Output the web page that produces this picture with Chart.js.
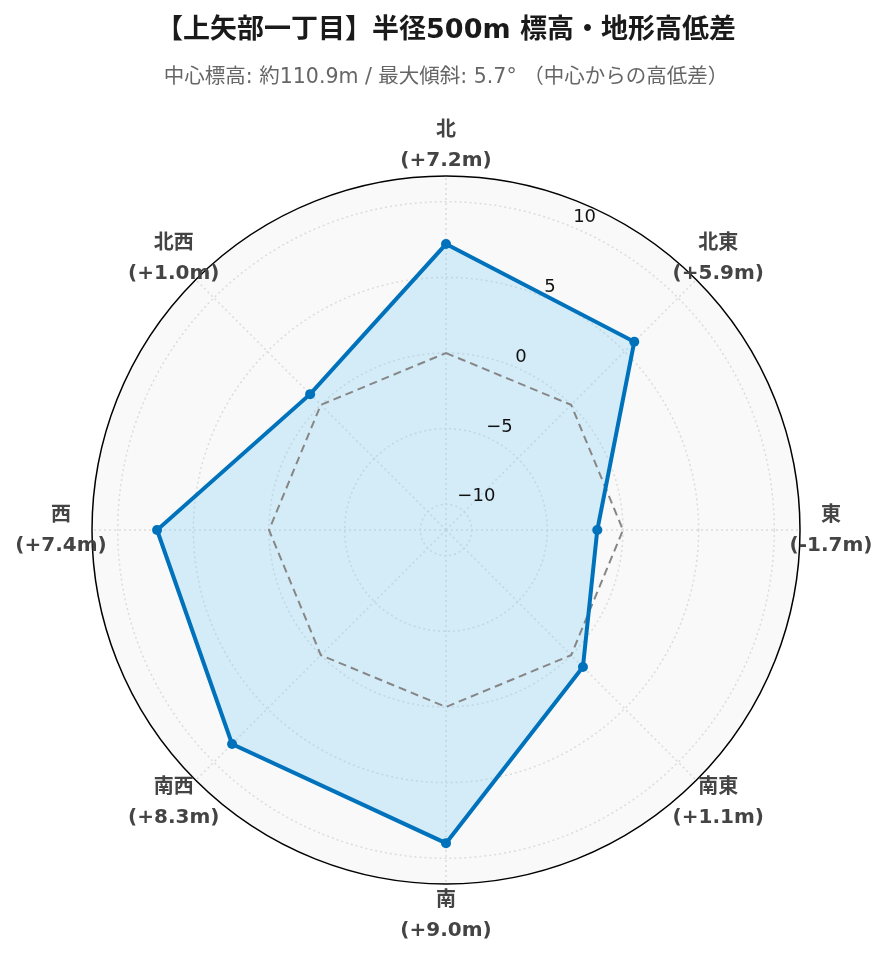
<!DOCTYPE html>
<html>
<head>
<meta charset="utf-8">
<script src="https://cdn.jsdelivr.net/npm/chart.js@4.4.0/dist/chart.umd.min.js"></script>
<style>
	html, body { margin: 0; padding: 0; background: #fff; }
	#wrap { width: 889px; height: 962px; }
</style>
</head>
<body>
<div id="wrap"><canvas id="elevChart" width="889" height="962"></canvas></div>
<script>
/***************************** 데이터 *****************************/
const dirLabels = ['北', '北東', '東', '南東', '南', '南西', '西', '北西']
const diffValues = [7.2, 5.9, -1.7, 1.1, 9.0, 8.3, 7.4, 1.0]
const zeroLine = [0, 0, 0, 0, 0, 0, 0, 0]
const tickValues = [-10, -5, 0, 5, 10]
const tickTexts = ['−10', '−5', '0', '5', '10']
const rMin = -11.7
const rMax = 11.7

const titleText = '【上矢部一丁目】半径500m 標高・地形高低差'
const subText = '中心標高: 約110.9m / 最大傾斜: 5.7° （中心からの高低差）'

const FONT = '"DejaVu Sans", "Noto Sans CJK JP", sans-serif'

function ById(id) {
	return document.getElementById(id);
}

// 방위 라벨 2줄 (방향 + 고저차)
function diffText(v) {
	return '(' + (v >= 0 ? '+' : '') + v.toFixed(1) + 'm)'
}

/***************************** 눈금 / 방위 라벨 플러그인 *****************************/
const labelPlugin = {
	id: 'labelPlugin',
	afterDatasetsDraw(chart) {
		const scale = chart.scales.r
		const ctx = chart.ctx
		ctx.save()

		// 눈금 라벨 (22.5도 방향)
		ctx.font = '18px ' + FONT
		ctx.fillStyle = '#111'
		ctx.textAlign = 'left'
		ctx.textBaseline = 'middle'
		for (let i = 0; i < tickValues.length; i++) {
			let d = scale.getDistanceFromCenterForValue(tickValues[i])
			let p = scale.getPointPosition(0, d, Math.PI / 8)
			ctx.fillText(tickTexts[i], p.x + 1.5, p.y - 9.5)
		}

		// 방위 라벨
		ctx.font = 'bold 20px ' + FONT
		ctx.fillStyle = '#444'
		ctx.textAlign = 'center'
		for (let i = 0; i < dirLabels.length; i++) {
			let p = scale.getPointPosition(i, scale.drawingArea + 31)
			ctx.fillText(dirLabels[i], p.x, p.y - 14)
			ctx.fillText(diffText(diffValues[i]), p.x, p.y + 16)
		}
		ctx.restore()
	}
}

/***************************** 차트 *****************************/
function elevChart() {
	var chartArea = ById('elevChart').getContext('2d')

	var myChart = new Chart(chartArea, {
		type: 'radar',
		data: {
			labels: dirLabels,
			datasets: [{
				label: '高低差',
				data: diffValues,
				borderColor: '#0072bc',
				backgroundColor: 'rgba(126, 206, 246, 0.3)',
				borderWidth: 4,
				pointRadius: 5,
				pointBackgroundColor: '#0072bc',
				pointBorderColor: '#0072bc',
				pointBorderWidth: 0,
				// 중심(최소값)부터 채우기
				fill: 'start',
				order: 0
			}, {
				label: '0m',
				data: zeroLine,
				borderColor: '#868686',
				borderWidth: 2,
				borderDash: [8, 5],
				pointRadius: 0,
				fill: false,
				order: 1
			}]
		},
		options: {
			responsive: false,
			animation: false,
			layout: {
				padding: { left: 92, right: 89, top: 0, bottom: 0 }
			},
			plugins: {
				legend: { display: false },
				tooltip: { enabled: false },
				filler: { drawTime: 'beforeDatasetsDraw' },
				title: {
					display: true,
					text: titleText,
					color: '#1a1a1a',
					font: { family: FONT, size: 27, weight: 'bold', lineHeight: '30px' },
					padding: { top: 16, bottom: 0 }
				},
				subtitle: {
					display: true,
					text: subText,
					color: '#666',
					font: { family: FONT, size: 20.5, lineHeight: '22px' },
					padding: { top: 21, bottom: 9 }
				}
			},
			scales: {
				r: {
					min: rMin,
					max: rMax,
					backgroundColor: '#f9f9f9',
					ticks: { display: false, stepSize: 5 },
					pointLabels: { display: false },
					grid: {
						circular: true,
						color: function(c) {
							return (c.tick && c.tick.value >= rMax) ? '#000' : '#dcdcdc'
						},
						lineWidth: 1.5
					},
					border: {
						dash: function(c) {
							return (c.tick && c.tick.value >= rMax) ? [] : [2, 3]
						}
					},
					angleLines: {
						color: '#dcdcdc',
						lineWidth: 1.5,
						borderDash: [2, 3]
					}
				}
			}
		},
		plugins: [labelPlugin]
	})
}

elevChart()
</script>
</body>
</html>
